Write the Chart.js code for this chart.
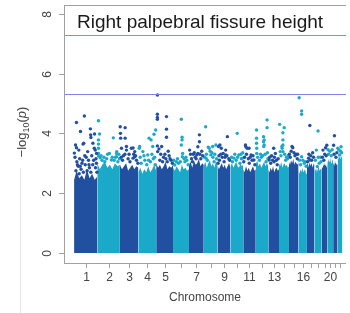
<!DOCTYPE html>
<html>
<head>
<meta charset="utf-8">
<script src="https://cdn.jsdelivr.net/npm/chart.js@4.4.1/dist/chart.umd.min.js"></script>
<style>
html, body { margin: 0; padding: 0; background: #fff; overflow: hidden; }
canvas { display: block; }
</style>
</head>
<body>
<canvas id="manhattanChart" width="350" height="313"></canvas>
<script>
// Chromosomes and their lengths (Mb)
var chromosomes = [1, 2, 3, 4, 5, 6, 7, 8, 9, 10, 11, 12, 13, 14, 15, 16, 17, 18, 19, 20, 21, 22];
var chrLengths = [249, 243, 198, 191, 181, 171, 159, 146, 141, 136, 135, 134, 115, 107, 103, 90, 81, 78, 59, 63, 48, 51];
var chrTickLabels = ['1', '2', '3', '4', '5', '', '7', '', '9', '', '11', '', '13', '', '', '16', '', '', '', '20', '', ''];
var yTicks = [0, 2, 4, 6, 8];
var genomeWideLine = 7.3;
var suggestiveLine = 5.3;

// top of the dense mass of SNPs in each chromosome (-log10 p), left to right
var bulkTops = [
    [2.45, 2.75, 2.5, 2.6, 2.45, 2.8, 2.5, 2.65, 2.45, 2.55],
    [3.0, 2.8, 2.95, 3.05, 2.85, 2.95, 2.8, 3.0, 2.9, 2.95],
    [2.95, 2.8, 2.9, 3.0, 2.75, 2.85, 2.95, 2.8, 2.9, 2.85],
    [2.7, 2.85, 2.65, 2.8, 2.7, 2.9, 2.7, 2.8, 2.95, 2.75],
    [3.0, 2.85, 2.95, 2.8, 2.9, 3.05, 2.8, 2.9, 2.85, 2.95],
    [2.85, 2.75, 2.9, 2.8, 2.7, 2.95, 2.8, 2.85, 2.75, 2.8],
    [2.95, 3.05, 2.85, 3.1, 2.95, 3.0, 3.15, 2.9, 3.0, 2.95],
    [2.9, 3.05, 2.85, 3.0, 3.1, 2.9, 3.0, 2.85, 3.05, 2.95],
    [2.95, 2.8, 2.9, 3.0, 2.85, 2.95, 2.8, 2.9, 3.0, 2.85],
    [2.9, 3.0, 2.85, 2.95, 3.05, 2.9, 2.85, 3.0, 2.9, 2.95],
    [2.8, 2.7, 2.9, 2.75, 2.85, 2.7, 2.8, 2.9, 2.75, 2.8],
    [2.95, 3.1, 2.9, 3.0, 2.85, 2.95, 3.05, 2.9, 3.0, 2.9],
    [2.8, 2.7, 2.85, 2.75, 2.9, 2.7, 2.8, 2.85, 2.75, 2.8],
    [3.0, 2.9, 3.05, 2.85, 2.95, 3.0, 2.9, 2.95, 2.85, 2.9],
    [3.05, 2.95, 3.1, 3.0, 3.15, 2.95, 3.05, 3.0, 2.95, 3.05],
    [2.75, 2.65, 2.8, 2.7, 2.85, 2.7, 2.75, 2.8, 2.65, 2.75],
    [2.95, 3.0, 2.85, 3.05, 2.9, 3.0, 2.95, 2.85, 3.0, 2.95],
    [2.8, 2.75, 2.85, 2.7, 2.8, 2.9, 2.75, 2.8, 2.85, 2.75],
    [2.95, 2.85, 3.0, 2.9, 2.95, 3.05, 2.9, 2.95, 2.85, 2.9],
    [3.1, 3.0, 3.15, 3.05, 3.2, 3.1, 3.0, 3.15, 3.1, 3.05],
    [3.0, 2.95, 3.05, 2.9, 3.0, 3.1, 2.95, 3.0, 2.95, 3.0],
    [3.2, 3.15, 3.3, 3.2, 3.25, 3.15, 3.3, 3.2, 3.25, 3.2]
];

// SNPs standing out above the mass: [genome position (Mb), -log10 p]
var hits = [
    // chr1
    [111, 4.58], [26, 4.36], [69, 4.06], [175, 4.15], [178, 3.95], [181, 3.86], [220, 3.98], [26, 3.52],
    [51, 3.44], [96, 3.64], [3, 3.34], [146, 3.39], [202, 3.67], [217, 3.5], [16, 3.61], [104, 3.67],
    [227, 3.44], [241, 3.33], [10, 3.2], [30, 3.05], [45, 2.9], [60, 3.15], [75, 2.8], [85, 3.0],
    [120, 2.95], [130, 3.2], [155, 3.1], [165, 2.85], [190, 3.25], [200, 2.95], [210, 3.1], [230, 2.85],
    [240, 3.0], [20, 2.75], [100, 2.7], [140, 2.75], [180, 2.7], [245, 2.7], [55, 2.65], [115, 3.25],
    [36, 2.95], [66, 2.9], [92, 3.1], [160, 2.95], [235, 3.15],
    // chr2
    [262, 4.42], [273, 3.98], [421, 3.85], [262, 3.78], [262, 3.64], [262, 3.5], [262, 3.33], [263, 3.24],
    [379, 3.33], [456, 3.33], [400, 3.11], [456, 3.22], [280, 3.18], [458, 3.39], [300, 3.1], [330, 3.05],
    [350, 3.15], [430, 3.1], [470, 3.05], [488, 3.15], [320, 3.2], [290, 3.25], [360, 3.3], [410, 3.2],
    [445, 3.2], [480, 3.3],
    // chr3
    [495, 4.22], [548, 4.19], [498, 4.0], [500, 3.84], [548, 3.84], [562, 3.44], [615, 3.5], [651, 3.39],
    [509, 3.5], [651, 3.22], [633, 3.51], [633, 3.17], [562, 3.56], [520, 3.1], [580, 3.15], [600, 3.05],
    [670, 3.1], [685, 3.0], [530, 3.25], [505, 3.2], [545, 3.3], [590, 3.3], [640, 3.3], [660, 3.25],
    // chr4
    [704, 3.56], [738, 3.39], [791, 3.28], [826, 3.78], [844, 3.56], [876, 4.11], [858, 3.97], [805, 3.84],
    [699, 3.5], [720, 3.0], [760, 3.1], [780, 2.95], [820, 3.05], [850, 3.15], [870, 2.95], [710, 3.2],
    [750, 3.25], [800, 3.1], [835, 3.3], [865, 3.2],
    // chr5
    [894, 5.28], [894, 4.64], [894, 4.53], [894, 4.47], [992, 4.56], [992, 4.14], [992, 3.87], [894, 3.58],
    [911, 3.48], [940, 3.56], [897, 3.39], [920, 3.1], [960, 3.2], [1000, 3.05], [1020, 3.25], [1040, 3.1],
    [1055, 3.0], [975, 3.3], [930, 3.3], [950, 3.05], [985, 3.15], [1010, 3.4], [1030, 3.15],
    // chr6
    [1151, 4.47], [1159, 3.87], [1159, 3.78], [1151, 3.61], [1165, 3.33], [1162, 3.22], [1080, 2.94],
    [1098, 3.05], [1120, 3.0], [1190, 3.05], [1210, 3.1], [1225, 2.95], [1070, 3.1], [1110, 3.15],
    [1140, 3.05], [1180, 3.15], [1200, 3.2],
    // chr7
    [1240, 3.44], [1345, 3.95], [1345, 3.72], [1328, 3.33], [1328, 3.55], [1317, 3.28], [1260, 3.15],
    [1280, 3.3], [1300, 3.2], [1360, 3.15], [1380, 3.25], [1270, 3.05], [1250, 3.3], [1290, 3.35],
    [1310, 3.15], [1350, 3.3], [1370, 3.4],
    // chr8
    [1412, 4.22], [1440, 3.54], [1450, 3.5], [1487, 3.56], [1522, 3.61], [1416, 3.17], [1468, 3.28],
    [1503, 3.05], [1430, 3.1], [1490, 3.2], [1530, 3.15], [1400, 3.2], [1420, 3.3], [1460, 3.4],
    [1480, 3.35], [1510, 3.3],
    // chr9
    [1645, 3.89], [1627, 3.44], [1627, 3.28], [1545, 3.0], [1550, 3.56], [1565, 3.61], [1580, 3.5],
    [1600, 3.33], [1560, 3.1], [1590, 3.2], [1610, 3.05], [1660, 3.15], [1555, 3.25], [1575, 3.3],
    [1620, 3.2], [1640, 3.25], [1670, 3.1],
    // chr10
    [1751, 4.0], [1715, 3.17], [1768, 3.28], [1790, 3.3], [1805, 3.17], [1700, 3.05], [1740, 3.1], [1780, 3.0],
    [1690, 3.2], [1725, 3.3], [1755, 3.2], [1795, 3.15], [1810, 3.35],
    // chr11
    [1839, 3.61], [1857, 3.5], [1821, 3.05], [1842, 3.56], [1878, 3.5], [1900, 3.28], [1930, 3.11],
    [1880, 3.0], [1910, 3.1], [1940, 2.95], [1830, 3.2], [1850, 3.3], [1870, 3.15], [1890, 3.2], [1920, 3.25],
    // chr12
    [2071, 4.45], [2071, 4.19], [1958, 4.11], [1958, 3.84], [1958, 3.67], [1960, 3.5], [1960, 3.33],
    [2033, 3.89], [2033, 3.72], [2035, 3.56], [2040, 3.78], [2040, 3.61], [1990, 3.1], [2010, 3.2],
    [2060, 3.05], [2080, 3.15], [1970, 3.2], [2000, 3.3], [2025, 3.25], [2050, 3.3], [2075, 3.35],
    // chr13
    [2142, 3.5], [2160, 3.33], [2093, 3.11], [2146, 3.05], [2110, 3.0], [2130, 3.1], [2180, 2.95],
    [2100, 3.2], [2120, 3.25], [2150, 3.2], [2170, 3.1], [2190, 3.15],
    // chr14
    [2206, 4.3], [2255, 4.19], [2241, 4.02], [2241, 3.78], [2241, 3.61], [2241, 3.39], [2230, 3.56],
    [2212, 3.39], [2233, 3.5], [2270, 3.1], [2290, 3.15], [2220, 3.25], [2260, 3.3], [2280, 3.2], [2300, 3.25],
    // chr15
    [2347, 3.52], [2339, 3.56], [2320, 3.2], [2370, 3.25], [2395, 3.15], [2310, 3.3], [2330, 3.4],
    [2360, 3.35], [2385, 3.3], [2400, 3.3],
    // chr16
    [2415, 5.19], [2442, 4.75], [2442, 4.64], [2442, 3.22], [2430, 2.95], [2470, 3.0], [2490, 2.9],
    [2420, 3.1], [2455, 3.1], [2480, 3.05],
    // chr17
    [2530, 4.26], [2530, 3.11], [2505, 3.05], [2516, 3.17], [2550, 3.1], [2570, 3.2], [2520, 3.3],
    [2540, 3.25], [2560, 3.35],
    // chr18
    [2618, 4.08], [2600, 3.44], [2610, 2.89], [2630, 3.0], [2650, 3.05], [2590, 3.1], [2620, 3.2], [2645, 3.2],
    // chr19
    [2671, 3.44], [2699, 3.52], [2712, 3.6], [2690, 3.3], [2680, 3.1], [2665, 3.2], [2705, 3.25],
    // chr20
    [2730, 3.3], [2760, 3.25], [2725, 3.45], [2745, 3.4], [2770, 3.45],
    // chr21
    [2794, 3.92], [2785, 3.6], [2810, 3.2], [2790, 3.3], [2820, 3.35],
    // chr22
    [2830, 3.5], [2850, 3.28], [2860, 3.4], [2870, 3.35], [2840, 3.45], [2865, 3.55]
];

var darkBlue = '#2150a0';
var cyan = '#1aa9c8';

// cumulative start of each chromosome along the x axis
var chrStarts = [];
var acc = 0;
for (var i = 0; i < chrLengths.length; i++) {
    chrStarts.push(acc);
    acc += chrLengths[i];
}

function chrIndexOf(pos) {
    for (var i = chrStarts.length - 1; i >= 0; i--) {
        if (pos >= chrStarts[i]) return i;
    }
    return 0;
}

var datasets = [];

// dense mass, one filled area per chromosome
bulkTops.forEach(function (tops, c) {
    var pts = tops.map(function (v, k) {
        return { x: chrStarts[c] + chrLengths[c] * k / (tops.length - 1), y: v };
    });
    datasets.push({
        type: 'line',
        data: pts,
        fill: 'origin',
        backgroundColor: c % 2 === 0 ? darkBlue : cyan,
        borderWidth: 0,
        pointRadius: 0,
        tension: 0,
        order: 2
    });
});

// single SNPs
var darkPts = [], cyanPts = [];
hits.forEach(function (h) {
    var c = chrIndexOf(h[0]);
    (c % 2 === 0 ? darkPts : cyanPts).push({ x: h[0], y: h[1] });
});
datasets.push({ type: 'scatter', data: darkPts, backgroundColor: darkBlue, borderWidth: 0, pointRadius: 1.7, order: 0 });
datasets.push({ type: 'scatter', data: cyanPts, backgroundColor: cyan, borderWidth: 0, pointRadius: 1.7, order: 0 });

var fontFamily = '"Liberation Sans", Arial, sans-serif';

// R-style axes, box, threshold lines and text
var rAxes = {
    id: 'rAxes',
    afterDatasetsDraw: function (chart) {
        var ctx = chart.ctx;
        var a = chart.chartArea;
        var xs = chart.scales.x;
        var ys = chart.scales.y;
        var w = a.right - a.left;
        ctx.save();

        // threshold lines
        ctx.fillStyle = 'rgb(238, 110, 110)';
        ctx.fillRect(a.left, Math.round(ys.getPixelForValue(genomeWideLine)), w, 1);
        ctx.fillStyle = 'rgb(130, 130, 235)';
        ctx.fillRect(a.left, Math.round(ys.getPixelForValue(suggestiveLine)), w, 1);

        // box
        ctx.fillStyle = '#a0a0a0';
        ctx.fillRect(a.left, a.top, w, 1);
        ctx.fillRect(a.left, a.top, 1, a.bottom - a.top + 1);
        ctx.fillRect(a.left, a.bottom, w, 1);

        // y ticks
        ctx.lineWidth = 1;
        ctx.strokeStyle = '#a0a0a0';
        ctx.fillStyle = '#444';
        ctx.font = '12px ' + fontFamily;
        yTicks.forEach(function (t) {
            var py = Math.round(ys.getPixelForValue(t)) + 0.5;
            ctx.beginPath(); ctx.moveTo(a.left - 5, py); ctx.lineTo(a.left, py); ctx.stroke();
            ctx.save();
            ctx.translate(48, py);
            ctx.rotate(-Math.PI / 2);
            ctx.textAlign = 'center';
            ctx.textBaseline = 'middle';
            ctx.fillText(String(t), 0, 0);
            ctx.restore();
        });

        // x ticks
        ctx.textAlign = 'center';
        ctx.textBaseline = 'middle';
        chromosomes.forEach(function (ch, c) {
            var px = Math.round(xs.getPixelForValue(chrStarts[c] + chrLengths[c] / 2)) + 0.5;
            ctx.beginPath(); ctx.moveTo(px, a.bottom); ctx.lineTo(px, a.bottom + 5); ctx.stroke();
            if (chrTickLabels[c]) ctx.fillText(chrTickLabels[c], px, 278);
        });

        // axis titles
        ctx.fillText('Chromosome', (a.left + a.right) / 2, 298);

        ctx.save();
        ctx.translate(26, 132);
        ctx.rotate(-Math.PI / 2);
        ctx.textAlign = 'left';
        ctx.textBaseline = 'alphabetic';
        var f1 = '13px ' + fontFamily, f2 = '9px ' + fontFamily, f3 = 'italic 13px ' + fontFamily;
        ctx.font = f1; var w1 = ctx.measureText('\u2212log').width;
        ctx.font = f2; var w2 = ctx.measureText('10').width;
        ctx.font = f1; var w3 = ctx.measureText('(').width;
        ctx.font = f3; var w4 = ctx.measureText('p').width;
        ctx.font = f1; var w5 = ctx.measureText(')').width;
        var x0 = -(w1 + w2 + w3 + w4 + w5) / 2;
        ctx.font = f1; ctx.fillText('\u2212log', x0, 0);
        ctx.font = f2; ctx.fillText('10', x0 + w1, 3);
        ctx.font = f1; ctx.fillText('(', x0 + w1 + w2, 0);
        ctx.font = f3; ctx.fillText('p', x0 + w1 + w2 + w3, 0);
        ctx.font = f1; ctx.fillText(')', x0 + w1 + w2 + w3 + w4, 0);
        ctx.restore();

        // panel title
        ctx.fillStyle = '#1a1a1a';
        ctx.font = '19px ' + fontFamily;
        ctx.textAlign = 'left';
        ctx.textBaseline = 'alphabetic';
        ctx.fillText('Right palpebral fissure height', 77, 28);

        // faint figure border
        ctx.fillStyle = '#e6e6e6';
        ctx.fillRect(20, 168, 1, 145);

        ctx.restore();
    }
};

var ctx = document.getElementById('manhattanChart').getContext('2d');
var manhattanChart = new Chart(ctx, {
    type: 'scatter',
    data: { datasets: datasets },
    options: {
        responsive: false,
        animation: false,
        devicePixelRatio: 1,
        events: [],
        layout: { padding: { left: 64, top: 5, right: 0, bottom: 50 } },
        scales: {
            x: { type: 'linear', min: -108, max: 2918, display: false },
            y: { type: 'linear', min: -0.334, max: 8.29, display: false }
        },
        plugins: {
            legend: { display: false },
            tooltip: { enabled: false }
        }
    },
    plugins: [rAxes]
});
</script>
</body>
</html>
